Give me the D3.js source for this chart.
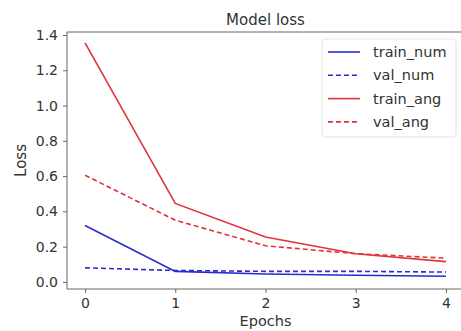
<!DOCTYPE html>
<html>
<head>
<meta charset="utf-8">
<script src="https://cdn.jsdelivr.net/npm/d3@7"></script>
<style>
  body { margin: 0; background: #fff; }
  text { font-family: "DejaVu Sans", sans-serif; fill: #333; }
</style>
</head>
<body>
<div id="chart"></div>
<script>
// Chart data
const epochs = [0, 1, 2, 3, 4];
const trainNum = [0.32, 0.06, 0.045, 0.038, 0.032];
const valNum = [0.08, 0.065, 0.06, 0.06, 0.056];
const trainAng = [1.355, 0.445, 0.255, 0.16, 0.115];
const valAng = [0.605, 0.35, 0.205, 0.16, 0.135];
const yTicks = [0.0, 0.2, 0.4, 0.6, 0.8, 1.0, 1.2, 1.4];

const WIDTH = 461;
const HEIGHT = 331;
const PLOT = { left: 67, right: 464, top: 32, bottom: 289 };

const series = [
  { name: 'train_num', values: trainNum, color: '#2a2ad0', dash: null },
  { name: 'val_num', values: valNum, color: '#2a2ad0', dash: '5,3' },
  { name: 'train_ang', values: trainAng, color: '#e0333a', dash: null },
  { name: 'val_ang', values: valAng, color: '#e0333a', dash: '5,3' }
];

const svg = d3.select('#chart')
  .append('svg')
  .attr('width', WIDTH)
  .attr('height', HEIGHT);

const xScale = d3.scaleLinear()
  .domain([-0.2, 4.2])
  .range([PLOT.left, PLOT.right]);

const yScale = d3.scaleLinear()
  .domain([-0.04, 1.417])
  .range([PLOT.bottom, PLOT.top]);

// Axes
const xAxis = d3.axisBottom(xScale)
  .tickValues(epochs)
  .tickFormat(d3.format('d'))
  .tickSize(4)
  .tickPadding(5);

const yAxis = d3.axisLeft(yScale)
  .tickValues(yTicks)
  .tickFormat(d3.format('.1f'))
  .tickSize(4)
  .tickPadding(5);

svg.append('g')
  .attr('transform', `translate(0, ${PLOT.bottom})`)
  .call(xAxis)
  .call(g => g.select('.domain').attr('d', `M${PLOT.left},0H${PLOT.right}`))
  .selectAll('text').style('font-size', '14px');

svg.append('g')
  .attr('transform', `translate(${PLOT.left}, 0)`)
  .call(yAxis)
  .call(g => g.select('.domain').attr('d', `M0,${PLOT.top}V${PLOT.bottom}`))
  .selectAll('text').style('font-size', '14px');

svg.selectAll('.domain, .tick line').attr('stroke', '#666');

// top spine
svg.append('line')
  .attr('x1', PLOT.left).attr('x2', PLOT.right)
  .attr('y1', PLOT.top).attr('y2', PLOT.top)
  .attr('stroke', '#666');

// Lines
const line = d3.line()
  .x((d, i) => xScale(epochs[i]))
  .y(d => yScale(d));

svg.selectAll('.series')
  .data(series)
  .join('path')
  .attr('class', 'series')
  .attr('fill', 'none')
  .attr('stroke', d => d.color)
  .attr('stroke-width', 1.6)
  .attr('stroke-dasharray', d => d.dash)
  .attr('d', d => line(d.values));

// Title and labels
svg.append('text')
  .attr('x', (PLOT.left + PLOT.right) / 2)
  .attr('y', 25)
  .attr('text-anchor', 'middle')
  .style('font-size', '15px')
  .text('Model loss');

svg.append('text')
  .attr('x', (PLOT.left + PLOT.right) / 2)
  .attr('y', 326)
  .attr('text-anchor', 'middle')
  .style('font-size', '14.5px')
  .text('Epochs');

svg.append('text')
  .attr('transform', `translate(26, ${(PLOT.top + PLOT.bottom) / 2}) rotate(-90)`)
  .attr('text-anchor', 'middle')
  .style('font-size', '15px')
  .text('Loss');

// Legend
const legend = svg.append('g')
  .attr('transform', 'translate(322, 39)');

legend.append('rect')
  .attr('width', 134)
  .attr('height', 98)
  .attr('rx', 3)
  .attr('fill', '#fff')
  .attr('stroke', '#e4e4e4');

const items = legend.selectAll('.item')
  .data(series)
  .join('g')
  .attr('class', 'item')
  .attr('transform', (d, i) => `translate(0, ${13 + i * 23.3})`);

items.append('line')
  .attr('x1', 6).attr('x2', 38)
  .attr('stroke', d => d.color)
  .attr('stroke-width', 1.6)
  .attr('stroke-dasharray', d => d.dash);

items.append('text')
  .attr('x', 51)
  .attr('dy', '0.35em')
  .style('font-size', '14.5px')
  .text(d => d.name);
</script>
</body>
</html>
